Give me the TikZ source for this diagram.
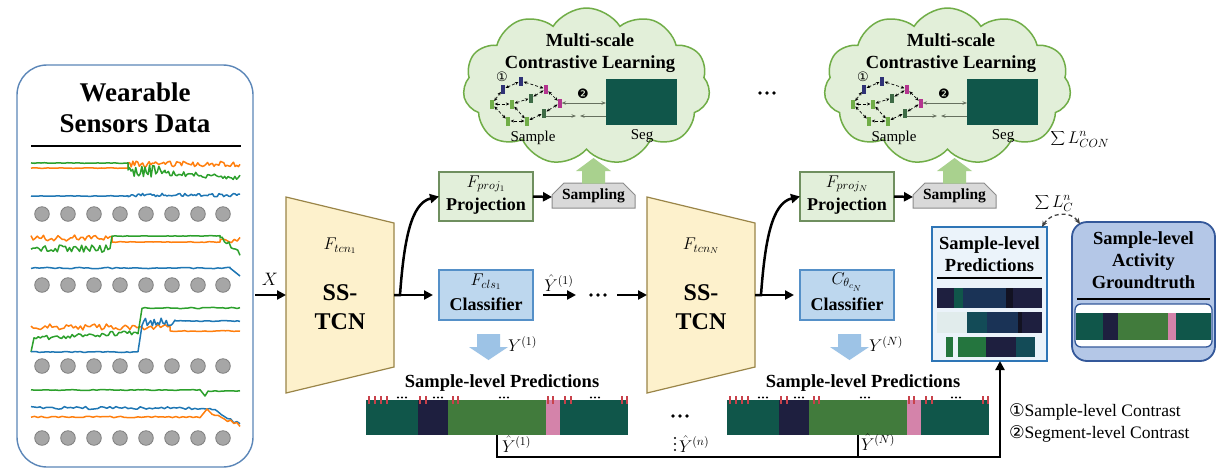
\documentclass[tikz,border=0pt]{standalone}
\usepackage{fix-cm}
\usepackage{fontspec}
\setmainfont{Liberation Serif}
\newfontfamily\dvsfont{DejaVu Sans}
\usetikzlibrary{arrows.meta,shapes.symbols}
\definecolor{cpanel}{HTML}{5B86B8}
\definecolor{ccirc}{HTML}{A6A6A6}
\definecolor{ccircb}{HTML}{7F7F7F}
\definecolor{sigorange}{HTML}{FF7F0E}
\definecolor{siggreen}{HTML}{2CA02C}
\definecolor{sigblue}{HTML}{1F77B4}
\definecolor{ctcn}{HTML}{FDF1CC}
\definecolor{ctcnb}{HTML}{9A8548}
\definecolor{cproj}{HTML}{E2EFDA}
\definecolor{cprojb}{HTML}{6F8F5F}
\definecolor{ccls}{HTML}{BDD7EE}
\definecolor{cclsb}{HTML}{5590C8}
\definecolor{csamp}{HTML}{D9D9D9}
\definecolor{csampb}{HTML}{8C8C8C}
\definecolor{ccloud}{HTML}{E2EFD9}
\definecolor{ccloudb}{HTML}{70AD47}
\definecolor{carrg}{HTML}{A9D18E}
\definecolor{carrb}{HTML}{9DC3E6}
\definecolor{cteal}{HTML}{10564A}
\definecolor{cnavy}{HTML}{1E1F3F}
\definecolor{cbgreen}{HTML}{417B3C}
\definecolor{cpink}{HTML}{D483AA}
\definecolor{cred}{HTML}{C8414B}
\definecolor{cmnavy}{HTML}{2F3276}
\definecolor{cmpink}{HTML}{B4358F}
\definecolor{cmdk}{HTML}{3D6B45}
\definecolor{cmlg}{HTML}{70AD47}
\definecolor{cgarr}{HTML}{66705F}
\definecolor{cpredb}{HTML}{2E75B6}
\definecolor{cpredf}{HTML}{EBF3FA}
\definecolor{cgtf}{HTML}{B4C7E7}
\definecolor{cgtb}{HTML}{34589A}
\definecolor{cdkblue}{HTML}{1A3356}
\definecolor{cblk}{HTML}{121222}
\definecolor{clight}{HTML}{E1ECEC}
\definecolor{cteal2}{HTML}{134B57}
\definecolor{cgreen2}{HTML}{24753E}
\tikzset{
 every node/.style={inner sep=0pt,outer sep=0pt},
 arr/.style={line width=2.5pt,-{Triangle[length=9pt,width=9pt]}},
 thickline/.style={line width=2.5pt},
 panelsty/.style={draw=cpanel,line width=1.4pt,rounded corners=30pt,minimum width=236pt,minimum height=402pt},
 ptitle/.style={font=\fontsize{27}{31}\selectfont\bfseries,align=center},
 circsty/.style={fill=ccirc,draw=ccircb,line width=0.8pt},
 sigO/.style={draw=sigorange,line width=1.5pt,line join=round},
 sigG/.style={draw=siggreen,line width=1.5pt,line join=round},
 sigB/.style={draw=sigblue,line width=1.5pt,line join=round},
 tcnsty/.style={fill=ctcn,draw=ctcnb,line width=1.2pt},
 tcntxt/.style={font=\fontsize{24}{29}\selectfont\bfseries,align=center},
 mlbl/.style={font=\fontsize{17}{19}\selectfont},
 boxtxt/.style={font=\fontsize{18}{20}\selectfont\bfseries},
 projsty/.style={fill=cproj,draw=cprojb,line width=1.2pt,minimum width=94pt,minimum height=49pt},
 clssty/.style={fill=ccls,draw=cclsb,line width=1.2pt,minimum width=94pt,minimum height=50pt},
 sampsty/.style={fill=csamp,draw=csampb,line width=1pt},
 samptxt/.style={font=\fontsize{15.5}{17}\selectfont\bfseries},
 cloudsty/.style={cloud,cloud puffs=11,cloud puff arc=115,cloud ignores aspect,minimum width=247pt,minimum height=157pt,fill=ccloud,draw=ccloudb,line width=1.5pt},
 ctitle/.style={font=\fontsize{18.5}{22}\selectfont\bfseries,align=center},
 sm/.style={font=\fontsize{15}{17}\selectfont},
 segsty/.style={fill=cteal,minimum width=71pt,minimum height=46pt},
 mk/.style={fill=#1,minimum width=3.2pt,minimum height=9pt},
 dsh/.style={densely dashed,line width=0.7pt,arrows={Stealth[length=3.5pt,width=3pt]-Stealth[length=3.5pt,width=3pt]},shorten <=1pt,shorten >=1pt},
 garr/.style={draw=cgarr,line width=0.8pt,arrows={-Stealth[length=4.5pt,width=3.5pt]}},
 garrr/.style={draw=cgarr,line width=0.8pt,arrows={Stealth[length=4.5pt,width=3.5pt]-Stealth[length=4.5pt,width=3.5pt]}},
 bignum/.style={font=\dvsfont\fontsize{13}{13}\selectfont},
 barsty/.style={minimum width=262pt,minimum height=35pt},
 tick/.style={draw=cred,line width=1.3pt},
 predtitle/.style={font=\fontsize{18.5}{22}\selectfont\bfseries,align=center},
 predsty/.style={draw=cpredb,fill=cpredf,line width=2pt,minimum width=115pt,minimum height=134pt},
 gtsty/.style={draw=cgtb,fill=cgtf,line width=1.8pt,rounded corners=15pt,minimum width=143pt,minimum height=139pt},
 legendtxt/.style={font=\fontsize{17.5}{20}\selectfont},
 ddash/.style={dashed,dash pattern=on 4pt off 3pt,line width=1.3pt,draw=black!75,arrows={Stealth[length=6pt,width=5pt]-Stealth[length=6pt,width=5pt]}}
}
\newcommand\stage[6]{%
\begin{scope}[xshift=#2pt]
 % cloud
 \node[cloudsty] (cloud#1) at (586.5,86.5) {};
 \node[ctitle] (ct#1) at (590,53) {Multi-scale\\Contrastive Learning};
 \node[segsty] (seg#1) at (641.5,102) {};
 \node[sm] (segl#1) at (642,136) {Seg};
 \node[sm] (saml#1) at (533,138) {Sample};
 \node[mk=cmnavy] (na#1) at (503,89) {};
 \node[mk=cmnavy] (nb#1) at (521,81) {};
 \node[mk=cmpink] (pa#1) at (546,89) {};
 \node[mk=cmpink] (pb#1) at (560,103) {};
 \node[mk=cmdk] (da#1) at (531,98) {};
 \node[mk=cmdk] (db#1) at (544,113) {};
 \node[mk=cmlg] (ga#1) at (492,104) {};
 \node[mk=cmlg] (gb#1) at (512,104) {};
 \node[mk=cmlg] (gc#1) at (508,121) {};
 \node[mk=cmlg] (gd#1) at (527,121) {};
 \draw[dsh] (ga#1) -- (na#1);
 \draw[dsh] (na#1) -- (nb#1);
 \draw[dsh] (nb#1) -- (pa#1);
 \draw[dsh] (pa#1) -- (pb#1);
 \draw[dsh] (pb#1) -- (db#1);
 \draw[dsh] (db#1) -- (gd#1);
 \draw[dsh] (gd#1) -- (gc#1);
 \draw[dsh] (gc#1) -- (ga#1);
 \draw[dsh] (ga#1) -- (gb#1);
 \draw[dsh] (gb#1) -- (da#1);
 \draw[dsh] (da#1) -- (pa#1);
 \draw[dsh] (gb#1) -- (gd#1);
 \node[bignum] (ca#1) at (502,77) {①};
 \node[bignum] (cb#1) at (583,94) {❷};
 \draw[garrr] (pb#1.east) -- (pb#1.east -| seg#1.west);
 \coordinate (gap#1) at (578,116);
 \draw[garr] (db#1.east |- gap#1) -- ([xshift=-2pt]gap#1);
 \draw[garr] (seg#1.west |- gap#1) -- ([xshift=2pt]gap#1);
 % sampling
 \draw[sampsty] (552,208) -- (552,195) -- (564,183) -- (623,183) -- (635,195) -- (635,208) -- cycle;
 \node[samptxt] (samp#1) at (593.5,196) {Sampling};
 \coordinate (sampW#1) at (552,197);
 \fill[carrg] (582,183.5) -- (582,171) -- (576,171) -- (593.5,158) -- (611,171) -- (605,171) -- (605,183.5) -- cycle;
 % TCN
 \draw[tcnsty] (286,197) -- (394,223) -- (394,367) -- (286,393) -- cycle;
 \coordinate (tcnW#1) at (286,295);
 \coordinate (tcnE#1) at (394,295);
 \node[mlbl] (tcnF#1) at (340,246) {#3};
 \node[tcntxt] (tcnT#1) at (340,307.5) {SS-\\TCN};
 % projection
 \node[projsty] (proj#1) at (486,196.5) {};
 \node[mlbl] (projF#1) at (486,184) {#4};
 \node[boxtxt] (projT#1) at (486,206) {Projection};
 % classifier
 \node[clssty] (cls#1) at (486,295) {};
 \node[mlbl] (clsF#1) at (486,282) {#5};
 \node[boxtxt] (clsT#1) at (486,304) {Classifier};
 % connectors
 \draw[arr] (tcnE#1) -- ++(6,0) .. controls (404,240) and (411,203) .. (proj#1.west);
 \draw[arr,shorten >=6pt] (tcnE#1) -- (cls#1.west);
 \draw[arr] (proj#1.east) -- (sampW#1);
 % blue arrow
 \fill[carrb] (477,334) -- (500,334) -- (500,347) -- (508,347) -- (488.5,360) -- (469,347) -- (477,347) -- cycle;
 \node[mlbl,anchor=west] (Ylab#1) at (508,344) {#6};
 % bottom bar
 \node[boxtxt,font=\fontsize{18.5}{20}\selectfont\bfseries] (bt#1) at (502,383) {Sample-level Predictions};
 \node[barsty] (bar#1) at (497,417.5) {};
 \fill[cteal] (366,400) rectangle (418,435);
 \fill[cnavy] (418,400) rectangle (448,435);
 \fill[cbgreen] (448,400) rectangle (546,435);
 \fill[cpink] (546,400) rectangle (560,435);
 \fill[cteal] (560,400) rectangle (628,435);
 \foreach \tk in {369,375,381,387,420,426,453,458,548,553,565,571,622,627} \draw[tick] (\tk,396) -- (\tk,404);
 \foreach \dd in {402,438,504,595} \foreach \ee in {-4,0,4} \fill ({\dd+\ee},397.5) circle (1.2pt);
\end{scope}}
\begin{document}
\begin{tikzpicture}[x=1pt,y=-1pt]
\useasboundingbox (0,0) rectangle (1223,475);
\fill[white] (0,0) rectangle (1223,475);
% left panel
\node[panelsty] (panel) at (135,266) {};
\node[ptitle] (ptitle) at (135,107.5) {Wearable\\Sensors Data};
\draw[line width=2.5pt] (31,146) -- (241,146);
\pgfmathsetseed{7}
% group 1
\draw[sigO] plot[domain=31:128,samples=30] (\x,{168+0.3*rand}) -- plot[domain=128:240,samples=70] (\x,{164+2.8*rand});
\draw[sigG] plot[domain=31:128,samples=30] (\x,{163+0.3*rand}) -- plot[domain=128:165,samples=25] (\x,{171+6*rand}) -- plot[domain=165:240,samples=45] (\x,{173+0.06*(\x-165)+2.5*rand});
\draw[sigB] plot[domain=31:128,samples=30] (\x,{196+0.3*rand}) -- plot[domain=128:240,samples=70] (\x,{195+1.8*rand});
% group 2
\draw[sigO] plot[domain=31:112,samples=40] (\x,{238+3*rand}) -- plot[domain=112:220,samples=30] (\x,{242+0.3*rand}) -- plot[domain=220:240,samples=8] (\x,{240+3*rand});
\draw[sigG] plot[domain=31:110,samples=40] (\x,{249+4*rand}) -- plot[domain=112:220,samples=30] (\x,{236+0.3*rand}) -- plot[domain=220:240,samples=10] (\x,{236+(\x-220)*0.9+3*rand});
\draw[sigB] plot[domain=31:230,samples=50] (\x,{268+0.7*rand}) -- plot[domain=230:240,samples=4] (\x,{268+(\x-230)*0.8});
% group 3
\draw[sigO] plot[domain=31:170,samples=60] (\x,{327+3*rand}) -- plot[domain=170:240,samples=25] (\x,{331+0.5*rand});
\draw[sigG] (31,352) -- plot[domain=34:138,samples=50] (\x,{338-0.05*(\x-34)+2.5*rand}) -- plot[domain=142:240,samples=35] (\x,{308+0.6*rand});
\draw[sigB] plot[domain=31:138,samples=40] (\x,{352+0.5*rand}) -- plot[domain=142:175,samples=20] (\x,{322+4*rand}) -- plot[domain=175:240,samples=25] (\x,{321+0.5*rand});
% group 4
\draw[sigG] plot[domain=31:200,samples=50] (\x,{390+0.4*rand}) -- (205,396) -- plot[domain=208:240,samples=10] (\x,{391+0.4*rand});
\draw[sigB] plot[domain=31:210,samples=60] (\x,{408+1.5*rand}) -- plot[domain=212:240,samples=10] (\x,{408+(\x-212)*0.6+2*rand});
\draw[sigO] plot[domain=31:200,samples=50] (\x,{417+0.7*rand}) -- (207,409) -- plot[domain=212:240,samples=10] (\x,{414+(\x-212)*0.4+1.5*rand});
\foreach \rr in {214,285,366,438} \foreach \cc in {42,68,94,120,146,172,198,223} \draw[circsty] (\cc,\rr) circle (7.3pt);
% stages
\stage{a}{0}{$F_{tcn_1}$}{$F_{proj_1}$}{$F_{cls_1}$}{$Y^{(1)}$}
\stage{b}{361}{$F_{tcn_N}$}{$F_{proj_N}$}{$C_{\theta_{c_N}}$}{$Y^{(N)}$}
% input
\coordinate (xin) at (255,295);
\draw[arr] (xin) -- (tcnWa);
\node[mlbl,font=\fontsize{18}{20}\selectfont] (xlab) at (270,279) {$X$};
% between stages
\foreach \ee in {-7,0,7} \fill ({598+\ee},295) circle (1.8pt);
\coordinate (hdots) at (598,295);
\draw[arr,shorten <=10pt,shorten >=22pt] (clsa.east) -- (hdots);
\node[mlbl] (yh1) at (559,283) {$\hat{Y}^{(1)}$};
\draw[arr,shorten <=19pt] (hdots) -- (tcnWb);
\foreach \ee in {-7,0,7} \fill ({767+\ee},93) circle (1.8pt);
\foreach \ee in {-7,0,7} \fill ({680+\ee},416) circle (1.8pt);
% loss labels
\node[mlbl,font=\fontsize{17}{19}\selectfont] (lcon) at (1080,139) {$\displaystyle\sum L^{n}_{CON}$};
\node[mlbl,font=\fontsize{17}{19}\selectfont] (lc) at (1054,203) {$\displaystyle\sum L^{n}_{C}$};
% prediction box
\node[predsty] (predbox) at (989.5,294) {};
\node[predtitle] (predt) at (989.5,254) {Sample-level\\Predictions};
\draw[line width=2.2pt] (937,278) -- (1042,278);
\fill[cnavy] (937,288) rectangle (954,308);
\fill[cteal] (954,288) rectangle (963,308);
\fill[cdkblue] (963,288) rectangle (1006,308);
\fill[cblk] (1006,288) rectangle (1013,308);
\fill[cnavy] (1013,288) rectangle (1042,308);
\fill[clight] (937,312) rectangle (967,333);
\fill[cteal2] (967,312) rectangle (987,333);
\fill[cdkblue] (987,312) rectangle (1018,333);
\fill[cblk] (1018,312) rectangle (1022,333);
\fill[cnavy] (1022,312) rectangle (1042,333);
\fill[cgreen2] (946,337) rectangle (953,357);
\fill[cgreen2] (958,337) rectangle (986,357);
\fill[cnavy] (986,337) rectangle (1016,357);
\fill[cteal2] (1016,337) rectangle (1035,357);
% groundtruth
\node[gtsty] (gtbox) at (1143.5,291.5) {};
\node[predtitle] (gtt) at (1143.5,260.5) {Sample-level\\Activity\\Groundtruth};
\draw[line width=2.2pt] (1077,299) -- (1210,299);
\draw[fill=white,draw=cgtb,line width=1.3pt,rounded corners=6pt] (1075,304) rectangle (1212,347);
\fill[cteal] (1076,313) rectangle (1103,340);
\fill[cnavy] (1103,313) rectangle (1118,340);
\fill[cbgreen] (1118,313) rectangle (1168,340);
\fill[cpink] (1168,313) rectangle (1176,340);
\fill[cteal] (1176,313) rectangle (1211,340);
\draw[ddash] ([xshift=-5pt]predbox.north east) .. controls +(8,-14) and +(-10,-14) .. ([xshift=8pt,yshift=-2pt]gtbox.north west);
% bottom feedback line
\coordinate (corner) at (1000,457);
\draw[arr] (bara.south) |- (corner) -- (corner |- predbox.south);
\draw[thickline] (barb.south) -- (barb.south |- corner);
\node[mlbl,anchor=west] (yhb1) at (502,444) {$\hat{Y}^{(1)}$};
\foreach \ee in {438,444,450} \fill (675,\ee) circle (1.2pt);
\node[mlbl,anchor=west] (yhbn) at (679,444) {$\hat{Y}^{(n)}$};
\node[mlbl,anchor=west] (yhbN) at (861,442) {$\hat{Y}^{(N)}$};
% legend
\node[legendtxt,anchor=west] (leg1) at (1009,412) {{\dvsfont ①}Sample-level Contrast};
\node[legendtxt,anchor=west] (leg2) at (1009,434) {{\dvsfont ②}Segment-level Contrast};
\end{tikzpicture}
\end{document}
